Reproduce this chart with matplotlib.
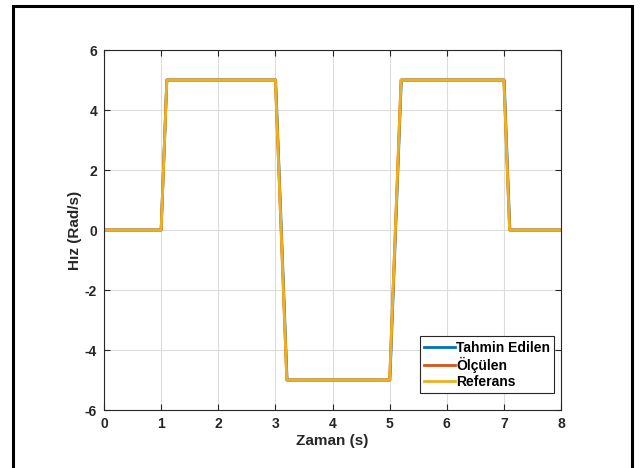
import matplotlib
matplotlib.use("Agg")
import matplotlib.pyplot as plt
from matplotlib.patches import Rectangle

# zaman ve hiz profilleri
t_ref = [0, 1.0, 1.1, 3.0, 3.2, 5.0, 5.2, 7.0, 7.1, 8]
w_ref = [0, 0, 5, 5, -5, -5, 5, 5, 0, 0]
t_olc = [0, 1.0, 1.1, 3.0, 3.2, 5.0, 5.2, 7.0, 7.1, 8]
w_olc = [0, 0, 5, 5, -5, -5, 5, 5, 0, 0]
t_tah = [0, 1.0, 1.1, 3.005, 3.205, 5.005, 5.205, 7.005, 7.105, 8]
w_tah = [0, 0, 5, 5, -5, -5, 5, 5, 0, 0]

labels = ["Tahmin Edilen", "Ölçülen", "Referans"]
colors = ["#0072BD", "#D95319", "#EDB120"]

plt.rcParams["font.family"] = ["Liberation Sans", "DejaVu Sans"]
plt.rcParams["font.weight"] = "bold"
plt.rcParams["axes.unicode_minus"] = False

fig = plt.figure(figsize=(6.44, 4.68), dpi=100)
ax = fig.add_axes([104 / 644, 1 - 410 / 468, (561 - 104) / 644, (410 - 50) / 468])

ax.plot(t_tah, w_tah, color=colors[0], lw=2, label=labels[0])
ax.plot(t_olc, w_olc, color=colors[1], lw=2, label=labels[1])
ax.plot(t_ref, w_ref, color=colors[2], lw=2, label=labels[2])

ax.set_xlim(0, 8)
ax.set_ylim(-6, 6)
ax.set_xticks(range(0, 9))
ax.set_yticks(range(-6, 7, 2))
ax.grid(True, color="#dcdcdc", lw=0.8)
ax.tick_params(direction="in", length=4, colors="#262626", labelsize=10, top=True, right=True,
               labeltop=False, labelright=False, pad=5)
ax.tick_params(axis="y", pad=5)
for lab in ax.get_xticklabels() + ax.get_yticklabels():
    lab.set_fontweight("bold")
for s in ax.spines.values():
    s.set_color("#262626")
    s.set_linewidth(0.8)

ax.set_xlabel("Zaman (s)", fontsize=11, fontweight="bold", color="#262626", labelpad=2)
ax.set_ylabel("Hız (Rad/s)", fontsize=11, fontweight="bold", color="#262626", labelpad=2)

leg = ax.legend(loc="lower right", bbox_to_anchor=(0.985, 0.047), fontsize=10, frameon=True,
                fancybox=False, framealpha=1, edgecolor="#262626", borderpad=0.3,
                labelspacing=0.15, handlelength=2.2, handletextpad=0.1, borderaxespad=0)
leg.get_frame().set_linewidth(0.8)
for txt in leg.get_texts():
    txt.set_fontweight("bold")

# dis cerceve
fig.patches.append(Rectangle((13 / 644, -0.05), (632 - 13) / 644, 1.05 - 6.5 / 468,
                             transform=fig.transFigure, fill=False, edgecolor="black", lw=2.2))

fig.savefig("out.png", dpi=100)
